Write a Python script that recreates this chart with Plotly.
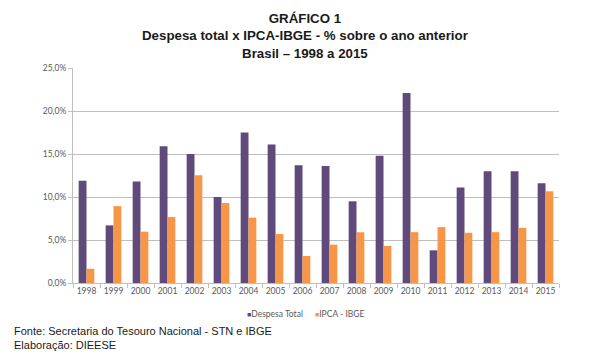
import plotly.graph_objects as go

anos = ["1998", "1999", "2000", "2001", "2002", "2003", "2004", "2005", "2006",
        "2007", "2008", "2009", "2010", "2011", "2012", "2013", "2014", "2015"]
despesa_total = [11.9, 6.7, 11.8, 15.9, 15.0, 10.0, 17.5, 16.1, 13.7,
                 13.6, 9.5, 14.8, 22.1, 3.8, 11.1, 13.0, 13.0, 11.6]
ipca_ibge = [1.65, 8.94, 5.97, 7.67, 12.53, 9.30, 7.60, 5.69, 3.14,
             4.46, 5.90, 4.31, 5.91, 6.50, 5.84, 5.91, 6.41, 10.67]
y_ticks = [0, 5, 10, 15, 20, 25]
y_tick_labels = [f"{v:.1f}%".replace(".", ",") for v in y_ticks]
series_names = ["Despesa Total", "IPCA - IBGE"]
series_colors = ["#5F4A7B", "#F79646"]

W, H = 609, 356
L, R, T, B = 73, 50, 68, 73
PW = W - L - R


def px_x(p):
    return (p - L) / PW


tick_font = dict(family="Lato, Noto Sans, sans-serif", size=8.5, color="#595959")

fig = go.Figure()
fig.add_trace(go.Bar(x=anos, y=despesa_total, name=series_names[0],
                     marker=dict(color=series_colors[0], line=dict(width=0))))
fig.add_trace(go.Bar(x=anos, y=ipca_ibge, name=series_names[1],
                     marker=dict(color=series_colors[1], line=dict(width=0))))

legend_anns = []
for name, color, xpos in zip(series_names, series_colors, [245, 313]):
    legend_anns.append(dict(
        text=f"<span style='color:{color};font-size:7px'>■</span>{name}",
        xref="paper", yref="paper", x=px_x(xpos), y=0, yshift=-31,
        xanchor="left", yanchor="middle", showarrow=False,
        font=dict(family="Lato, Noto Sans, sans-serif", size=8.5, color="#595959")))

fig.update_layout(
    width=W, height=H,
    margin=dict(l=L, r=R, t=T, b=B),
    paper_bgcolor="white", plot_bgcolor="white",
    barmode="group", bargap=0.42, bargroupgap=0,
    showlegend=False,
    xaxis=dict(type="category", showline=True, linecolor="#BFBFBF", linewidth=1,
               ticks="outside", tickson="boundaries", ticklen=4, tickcolor="#BFBFBF",
               tickfont=tick_font, tickangle=0, showgrid=False, fixedrange=True),
    yaxis=dict(range=[0, 25], tickvals=y_ticks, ticktext=y_tick_labels,
               showline=True, linecolor="#BFBFBF", linewidth=1,
               ticks="outside", ticklen=4, tickcolor="#BFBFBF",
               showgrid=True, gridcolor="#BFBFBF", gridwidth=1,
               zeroline=False, tickfont=tick_font, fixedrange=True),
    annotations=[
        dict(text="<b>GRÁFICO 1</b><br><b>Despesa total x IPCA-IBGE - % sobre o ano anterior</b><br><b>Brasil – 1998 a 2015</b>",
             xref="paper", yref="paper", x=px_x(305), y=1, yshift=59,
             xanchor="center", yanchor="top", showarrow=False, align="center",
             font=dict(family="Liberation Sans, Arial, sans-serif", size=13.3, color="#1a1a1a")),
        dict(text="Fonte: Secretaria do Tesouro Nacional - STN e IBGE<br>Elaboração: DIEESE",
             xref="paper", yref="paper", x=px_x(12), y=0, yshift=-40,
             xanchor="left", yanchor="top", showarrow=False, align="left",
             font=dict(family="Liberation Sans, Arial, sans-serif", size=11, color="#1a1a1a")),
    ] + legend_anns,
)

fig.write_html("out.html", config={"displayModeBar": False},
               post_script="document.body.style.margin='0';")
